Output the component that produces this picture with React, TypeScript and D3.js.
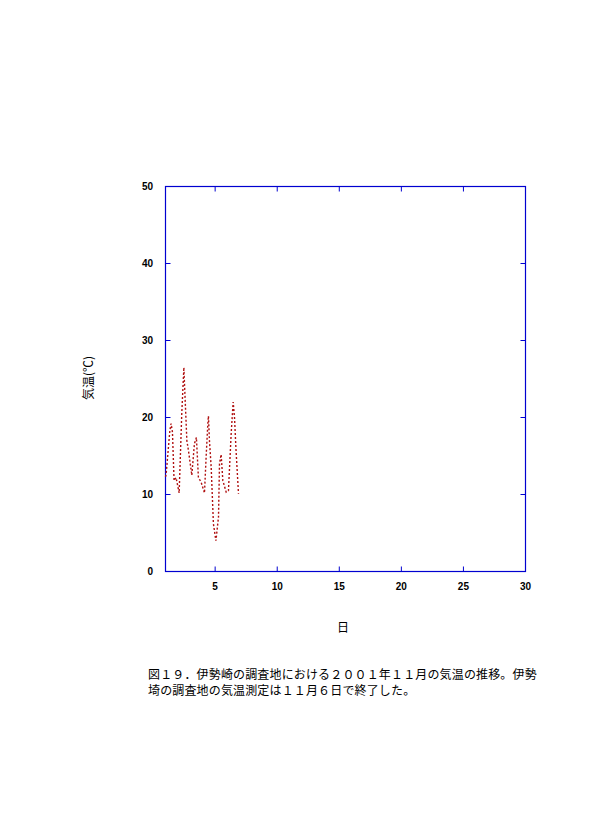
import React from "react";
import * as d3 from "d3";

const days = [1.0, 1.05, 1.35, 1.45, 1.56, 1.69, 1.85, 2.1, 2.31, 2.48, 2.52, 2.72, 2.85, 3.12, 3.33, 3.49, 3.65, 3.87, 4.14, 4.27, 4.41, 4.46, 4.54, 4.68, 4.86, 5.06, 5.27, 5.35, 5.48, 5.62, 5.89, 6.07, 6.29, 6.45, 6.56, 6.67, 6.88];
const temps = [12.3, 12.6, 18.3, 19.2, 18.1, 11.8, 12.2, 10.2, 20.5, 26.5, 24.8, 17.0, 15.7, 12.5, 16.6, 17.4, 12.2, 11.6, 10.2, 14.8, 19.2, 20.2, 17.0, 13.5, 6.2, 4.0, 7.1, 14.0, 15.2, 11.8, 10.3, 10.5, 17.9, 22.0, 20.0, 16.1, 10.1];
const xTicks = [5, 10, 15, 20, 25, 30];
const yTicks = [0, 10, 20, 30, 40, 50];
const caption1 = "図１９．伊勢崎の調査地における２００１年１１月の気温の推移。伊勢";
const caption2 = "埼の調査地の気温測定は１１月６日で終了した。";

export default function App() {
  const left = 165.5, right = 525.5, top = 186.5, bottom = 571.5;
  const x = d3.scaleLinear().domain([1, 30]).range([left, right]);
  const y = d3.scaleLinear().domain([0, 50]).range([bottom, top]);
  const line = d3.line<number>().x((_, i) => x(days[i])).y((t) => y(t));
  const blue = "#0000d0";
  const tl = 5;
  return (
    <svg width={594} height={840} style={{ position: "absolute", left: 0, top: 0, background: "#fff" }}>
      <rect x={left} y={top} width={right - left} height={bottom - top} fill="none" stroke={blue} strokeWidth={1.2} />
      {xTicks.map((t) => (
        <g key={"x" + t}>
          <line x1={x(t)} x2={x(t)} y1={bottom} y2={bottom - tl} stroke={blue} />
          <line x1={x(t)} x2={x(t)} y1={top} y2={top + tl} stroke={blue} />
          <text x={x(t)} y={590} textAnchor="middle" fontFamily="Liberation Sans, Arial" fontWeight="bold" fontSize={10}>{t}</text>
        </g>
      ))}
      {yTicks.map((t) => (
        <g key={"y" + t}>
          <line x1={left} x2={left + tl} y1={y(t)} y2={y(t)} stroke={blue} />
          <line x1={right} x2={right - tl} y1={y(t)} y2={y(t)} stroke={blue} />
          <text x={153} y={y(t) + 3.5} textAnchor="end" fontFamily="Liberation Sans, Arial" fontWeight="bold" fontSize={10}>{t}</text>
        </g>
      ))}
      <path d={line(temps) || ""} fill="none" stroke="#b01010" strokeWidth={1.4} strokeDasharray="2,2" />
      <text x={343} y={632} textAnchor="middle" fontFamily="Noto Sans CJK JP" fontSize={12}>日</text>
      <text transform="translate(93,378) rotate(-90)" textAnchor="middle" fontFamily="Noto Sans CJK JP" fontSize={12}>気温(℃)</text>
      <text x={148} y={679} fontFamily="Noto Sans CJK JP" fontSize={12} letterSpacing={0.15}>{caption1}</text>
      <text x={148} y={695} fontFamily="Noto Sans CJK JP" fontSize={12} letterSpacing={0.15}>{caption2}</text>
    </svg>
  );
}
